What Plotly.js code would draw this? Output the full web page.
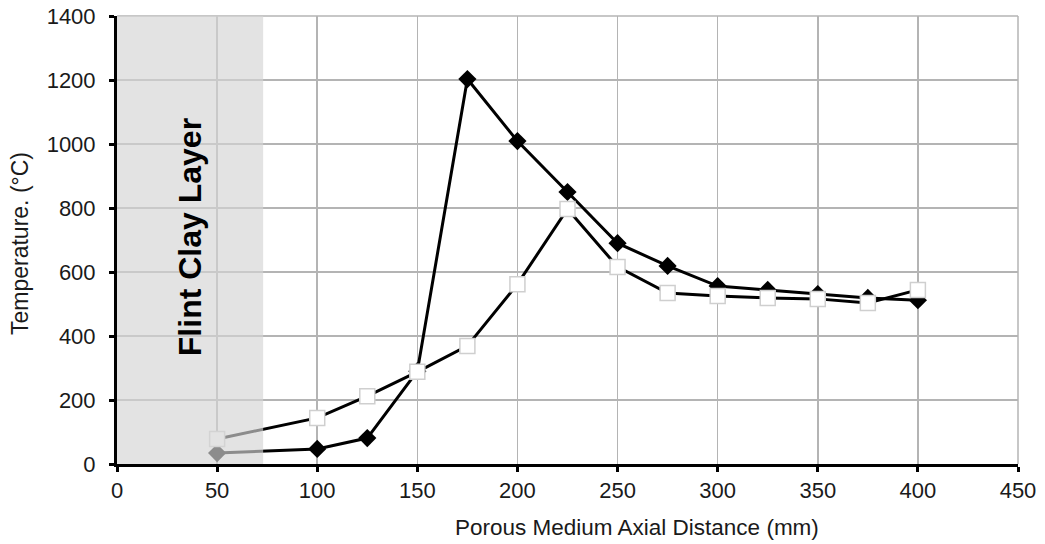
<!DOCTYPE html>
<html>
<head>
<meta charset="utf-8">
<script src="https://cdn.plot.ly/plotly-3.0.1.min.js"></script>
<style>html,body{margin:0;padding:0;background:#fff;}#chart{width:1045px;height:544px;}</style>
</head>
<body>
<div id="chart"></div>
<script>
var distance = [50, 100, 125, 150, 175, 200, 225, 250, 275, 300, 325, 350, 375, 400];
var seriesDiamond = [34, 47, 81, 290, 1203, 1009, 850, 690, 619, 556, 544, 531, 519, 512];
var seriesSquare = [78, 144, 212, 288, 369, 562, 797, 616, 534, 525, 519, 516, 503, 544];
var xTicks = [0, 50, 100, 150, 200, 250, 300, 350, 400, 450];
var yTicks = [0, 200, 400, 600, 800, 1000, 1200, 1400];
var layerEnd = 73;
var layerLabel = 'Flint Clay Layer';

var font = {family: 'Liberation Sans, Arial, sans-serif', color: '#1a1a1a'};

var traces = [
  {x: distance, y: seriesDiamond, mode: 'lines+markers', type: 'scatter',
   line: {color: '#000', width: 3},
   marker: {symbol: 'diamond', size: 14, color: '#000', line: {color: '#000', width: 0}},
   cliponaxis: false, showlegend: false},
  {x: distance, y: seriesSquare, mode: 'lines+markers', type: 'scatter',
   line: {color: '#000', width: 3},
   marker: {symbol: 'square', size: 15, color: '#fff', line: {color: '#cfcfcf', width: 1.5}},
   cliponaxis: false, showlegend: false}
];

var layout = {
  width: 1045, height: 544,
  margin: {l: 117, r: 27, t: 16, b: 80},
  paper_bgcolor: '#fff', plot_bgcolor: '#fff',
  font: font,
  xaxis: {range: [0, 450], tickvals: xTicks, ticktext: xTicks.map(String),
    showgrid: true, gridcolor: '#b4b4b4', gridwidth: 1.5, zeroline: false,
    showline: true, linecolor: '#000', linewidth: 3,
    ticks: 'outside', ticklen: 5, tickwidth: 3, tickcolor: '#000',
    tickfont: {family: font.family, size: 22, color: '#1a1a1a'}, fixedrange: true},
  yaxis: {range: [0, 1400], tickvals: yTicks, ticktext: yTicks.map(String),
    showgrid: true, gridcolor: '#b4b4b4', gridwidth: 1.5, zeroline: false,
    showline: true, linecolor: '#000', linewidth: 3,
    ticks: 'outside', ticklen: 5, tickwidth: 3, tickcolor: '#000', ticklabelstandoff: 9,
    tickfont: {family: font.family, size: 22, color: '#1a1a1a'}, fixedrange: true},
  shapes: [
    {type: 'line', xref: 'paper', yref: 'paper', x0: 0, x1: 1, y0: 1, y1: 1,
     line: {color: '#b4b4b4', width: 1.5}, layer: 'below'},
    {type: 'line', xref: 'paper', yref: 'paper', x0: 1, x1: 1, y0: 0, y1: 1,
     line: {color: '#b4b4b4', width: 1.5}, layer: 'below'},
    {type: 'rect', xref: 'x', yref: 'paper', x0: 0, x1: layerEnd, y0: 0, y1: 1,
     fillcolor: 'rgba(212,212,212,0.66)', line: {width: 0}, layer: 'above'}
  ],
  annotations: [
    {text: '<b>' + layerLabel + '</b>', xref: 'x', yref: 'y', x: 36.5, y: 709,
     textangle: -90, showarrow: false, font: {family: font.family, size: 32, color: '#000'}},
    {text: 'Porous Medium Axial Distance (mm)', xref: 'paper', yref: 'paper',
     x: (637 - 117) / 901, y: -(527 - 464) / 448, yanchor: 'middle', xanchor: 'center', showarrow: false,
     font: {family: font.family, size: 22.5, color: '#1a1a1a'}},
    {text: 'Temperature. (°C)', xref: 'paper', yref: 'paper',
     x: (20 - 117) / 901, y: (464 - 244) / 448, xanchor: 'center', yanchor: 'middle',
     textangle: -90, showarrow: false,
     font: {family: font.family, size: 23, color: '#1a1a1a'}}
  ]
};

Plotly.newPlot('chart', traces, layout, {displayModeBar: false, staticPlot: true});
</script>
</body>
</html>
